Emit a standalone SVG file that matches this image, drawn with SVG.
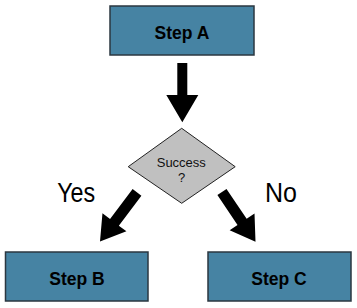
<svg xmlns="http://www.w3.org/2000/svg" width="357" height="308" viewBox="0 0 357 308">
<style>
.box{fill:#4683a3;stroke:#2b3740;stroke-width:1.5}
.lbl{font-family:"Liberation Sans",Arial,sans-serif;font-weight:bold;font-size:17.5px;fill:#000;text-anchor:middle}
.dia{fill:#c0c0c0;stroke:#222;stroke-width:1}
.small{font-family:"Liberation Sans",Arial,sans-serif;font-size:13px;fill:#111;text-anchor:middle}
.big{font-family:"Liberation Sans",Arial,sans-serif;font-size:27px;fill:#000;text-anchor:middle}
.arr{fill:#000}
</style>
<rect width="357" height="308" fill="#fff"/>
<g id="connectors">
<polygon class="arr" points="177.3,63 187.3,63 187.3,95 198.3,95 182.3,122.3 166.3,95 177.3,95"/>
<polygon class="arr" transform="translate(100,241.5) rotate(37)" points="-5.5,-61.5 5.5,-61.5 5.5,-24 15,-24 0,0 -15,-24 -5.5,-24"/>
<polygon class="arr" transform="translate(255.5,241.7) rotate(-34)" points="-5.5,-60 5.5,-60 5.5,-24 15,-24 0,0 -15,-24 -5.5,-24"/>
<text class="big" x="76.2" y="201.7" textLength="38" lengthAdjust="spacingAndGlyphs">Yes</text>
<text class="big" x="281" y="201.7" textLength="32" lengthAdjust="spacingAndGlyphs">No</text>
</g>
<g id="stepA">
<rect class="box" x="110" y="6" width="144" height="49"/>
<text class="lbl" x="182" y="39">Step A</text>
</g>
<g id="success">
<polygon class="dia" points="181.7,128.3 235.2,166.7 181.7,203.3 128.2,166.7"/>
<text class="small" x="181.3" y="167">Success</text>
<text class="small" x="181.7" y="182">?</text>
</g>
<g id="stepB">
<rect class="box" x="5.5" y="252" width="142.5" height="49"/>
<text class="lbl" x="77" y="285">Step B</text>
</g>
<g id="stepC">
<rect class="box" x="208" y="252" width="143" height="49"/>
<text class="lbl" x="279" y="285">Step C</text>
</g>
</svg>
